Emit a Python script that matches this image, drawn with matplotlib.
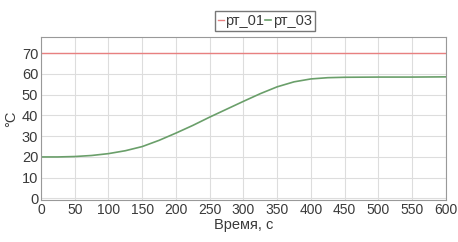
import numpy as np
import matplotlib; matplotlib.use("Agg")
import matplotlib.pyplot as plt

# data
t = [0, 25, 50, 75, 100, 125, 150, 175, 200, 225, 250, 275, 300, 325, 350, 375, 400, 425, 450, 500, 550, 600]
rt_03 = [20.0, 20.0, 20.2, 20.7, 21.6, 23.0, 25.0, 28.0, 31.5, 35.2, 39.2, 43.0, 46.8, 50.5, 53.8, 56.2, 57.6, 58.2, 58.4, 58.5, 58.5, 58.6]
rt_01 = [70.0] * len(t)

plt.rcParams["font.family"] = ["Liberation Sans Narrow", "Liberation Sans", "DejaVu Sans"]
TXT = "#3a3a3a"

fig = plt.figure(figsize=(4.58, 2.42), dpi=100)
ax = fig.add_axes([0.0895, 0.174, 0.884, 0.673])
ax.plot(t, rt_01, color="#e88080", lw=1.0, label="рт_01")
ax.plot(t, rt_03, color="#6a9f6a", lw=1.2, label="рт_03")

ax.set_xlim(0, 600)
ax.set_ylim(-0.7, 77.8)
ax.set_xticks(range(0, 601, 50))
ax.set_yticks(range(0, 71, 10))
ax.grid(True, color="#dddddd", lw=0.8)
for s in ax.spines.values():
    s.set_color("#999999")
ax.tick_params(length=0, labelsize=10.5, colors=TXT, pad=2)
ax.tick_params(axis="x", labelsize=10)
ax.set_xlabel("Время, с", fontsize=10.5, color=TXT, labelpad=1)
ax.set_ylabel("°C", fontsize=10.5, color=TXT, labelpad=3)

leg = fig.legend(loc="upper center", bbox_to_anchor=(0.578, 0.985), ncol=2,
                 handlelength=0.4, handletextpad=0.1, columnspacing=0.1,
                 borderpad=0.2, fontsize=10.5, frameon=True, fancybox=False)
leg.get_frame().set_edgecolor("#555555")
leg.get_frame().set_linewidth(1.0)
for tx in leg.get_texts():
    tx.set_color(TXT)

fig.savefig("out.png", dpi=100)
